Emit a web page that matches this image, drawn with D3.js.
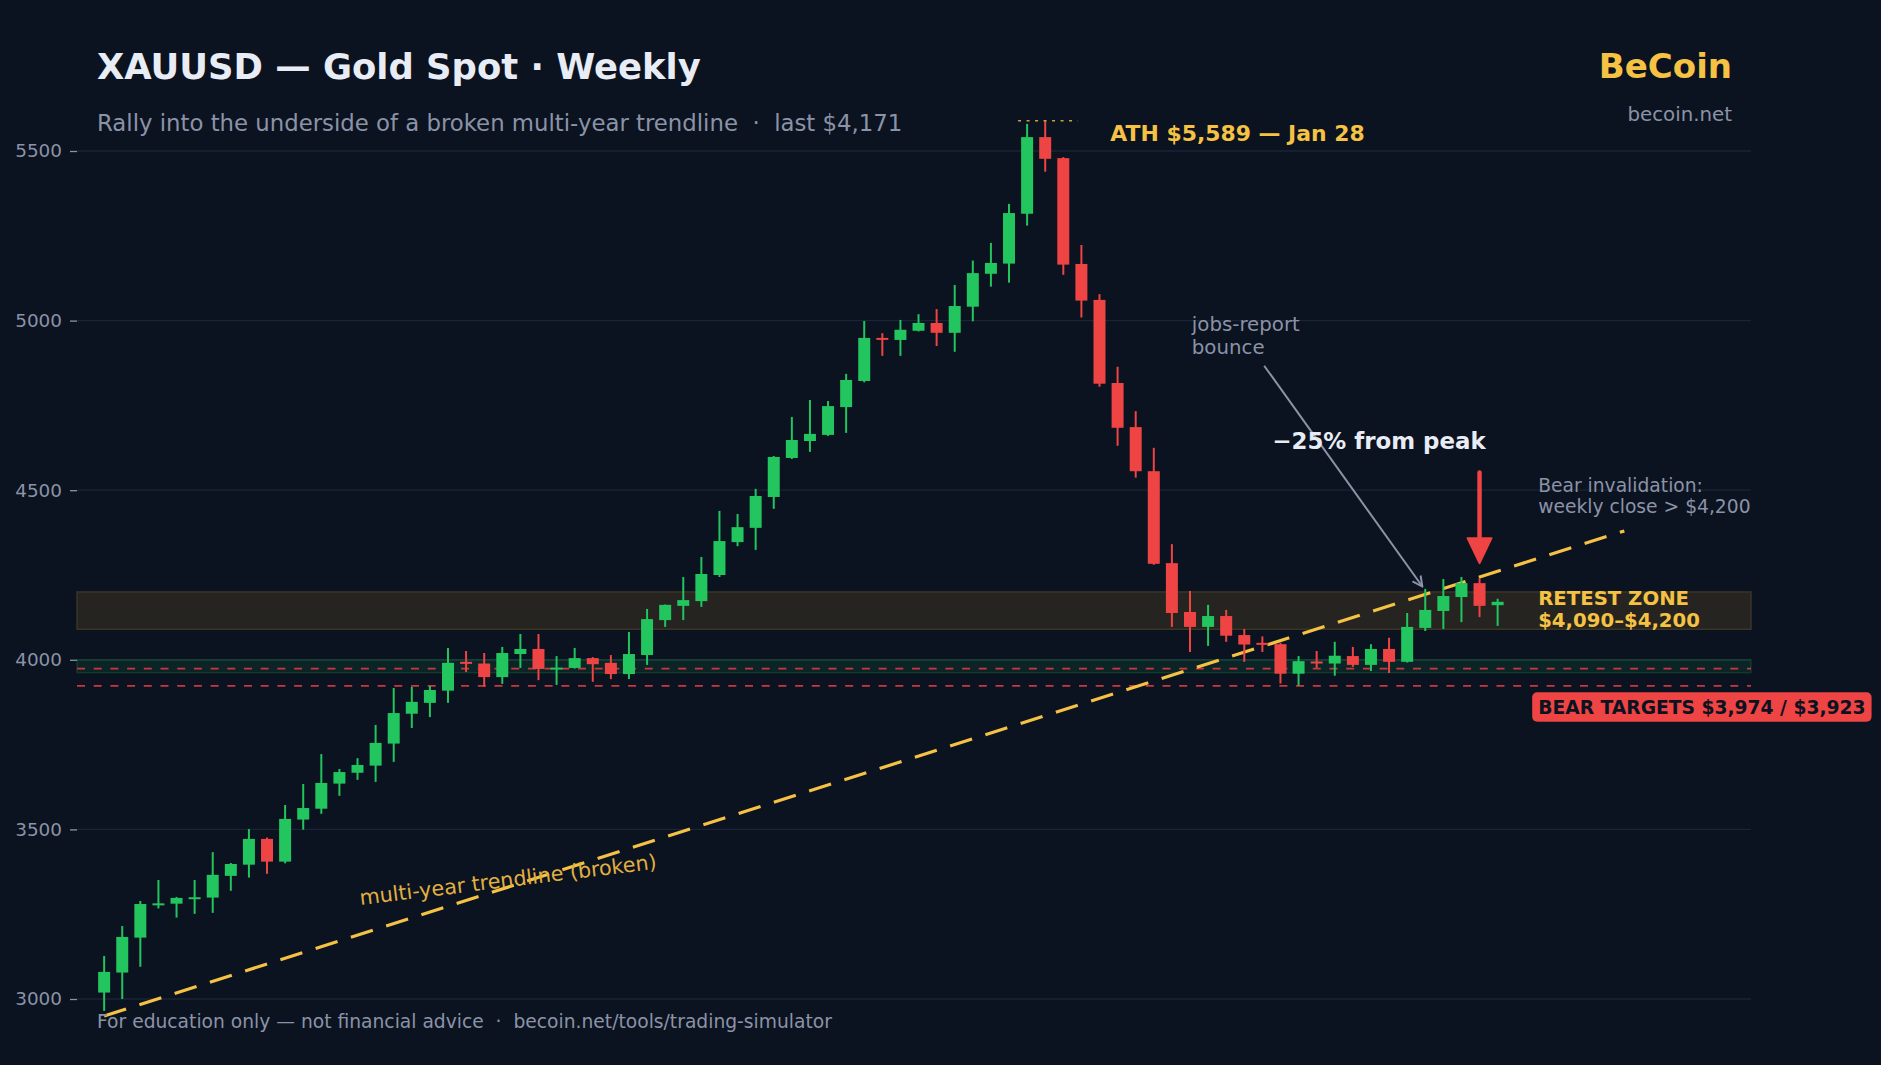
<!DOCTYPE html>
<html lang="en">
<head>
<meta charset="UTF-8" />
<title>XAUUSD — Gold Spot · Weekly</title>
<style>
  html, body { margin: 0; padding: 0; background: #0b1220; }
  svg { display: block; }
  text { font-family: "DejaVu Sans", sans-serif; }
</style>
</head>
<body>
<div id="chart"></div>
<script src="https://cdn.jsdelivr.net/npm/d3@7"></script>
<script>
// weekly OHLC
var opens  = [3019,3078,3181,3279,3281,3297,3299,3363,3396,3472,3405,3529,3561,3635,3667,3688,3753,3841,3873,3909,
              3994,3989,3949,4017,4032,3972,3976,4005,3991,3958,4014,4117,4159,4173,4250,4347,4389,4480,4595,4645,
              4663,4745,4822,4949,4943,4970,4993,4964,5041,5138,5168,5315,5541,5479,5167,5061,4816,4686,4556,4285,
              4141,4097,4129,4073,4050,4046,3959,3995,3989,4011,3985,4032,3994,4094,4144,4185,4226,4161];
var highs  = [3127,3215,3289,3351,3301,3351,3433,3401,3501,3476,3572,3634,3722,3678,3710,3808,3917,3920,3923,4035,
              4026,4020,4038,4076,4076,4011,4035,4008,4014,4082,4150,4163,4244,4303,4439,4430,4504,4601,4716,4766,
              4763,4843,4999,4963,5002,5019,5034,5105,5177,5229,5344,5580,5589,5482,5223,5078,4864,4733,4625,4341,
              4203,4162,4147,4091,4069,4050,4011,4026,4053,4038,4046,4065,4138,4209,4238,4244,4241,4180];
var lows   = [2965,3000,3095,3267,3240,3251,3254,3319,3358,3369,3400,3499,3546,3599,3646,3640,3699,3799,3831,3873,
              3964,3921,3929,3976,3940,3926,3974,3935,3943,3943,3985,4097,4117,4156,4244,4335,4324,4445,4592,4613,
              4660,4669,4818,4896,4896,4968,4925,4908,4998,5100,5112,5280,5439,5135,5009,4805,4631,4537,4280,4097,
              4023,4041,4053,3994,4023,3930,3924,3976,3953,3979,3967,3961,3992,4085,4091,4111,4126,4100];
var closes = [3080,3183,3280,3282,3298,3300,3366,3398,3472,3405,3531,3563,3637,3669,3690,3755,3843,3876,3911,3991,
              3988,3949,4020,4032,3973,3977,4005,3987,3958,4017,4120,4162,4176,4253,4350,4391,4483,4598,4648,4666,
              4748,4825,4949,4944,4973,4993,4964,5043,5140,5170,5317,5541,5477,5165,5059,4814,4684,4556,4283,4138,
              4097,4129,4071,4045,4047,3959,3996,3992,4012,3985,4032,3994,4097,4147,4188,4226,4159,4171];

var yTicks = [3000, 3500, 4000, 4500, 5000, 5500];

// levels
var retestZone = [4090, 4200];
var supportBand = [3962, 4000];
var bearTargets = [3974, 3923];
var athLevel = 5589;
var athSpan = [50.5, 53.8];
var trendPoints = [[0, 2950], [84, 4380]];

var W = 1881, H = 1065;
var plotLeft = 77, plotRight = 1751;
var GREEN = "#22c55e", RED = "#ef4444", GOLD = "#f5c244", GREY = "#8b93a7", WHITE = "#e8ecf4";

var x = d3.scaleLinear().domain([-1.5, 91]).range([plotLeft, plotRight]);
var y = d3.scaleLinear().domain([3000, 5500]).range([999, 151]);

var candles = opens.map(function (o, i) {
  return { i: i, o: o, h: highs[i], l: lows[i], c: closes[i] };
});

var svg = d3.select("#chart").append("svg")
  .attr("width", W).attr("height", H);

svg.append("rect").attr("width", W).attr("height", H).attr("fill", "#0b1220");

// gridlines
svg.append("g").selectAll("line").data(yTicks).enter().append("line")
  .attr("x1", plotLeft).attr("x2", plotRight)
  .attr("y1", function (d) { return y(d); }).attr("y2", function (d) { return y(d); })
  .attr("stroke", "#1a2436").attr("stroke-width", 1.3);

// y axis
var yAxis = svg.append("g").attr("transform", "translate(" + plotLeft + ",0)")
  .call(d3.axisLeft(y).tickValues(yTicks).tickSize(7).tickPadding(8).tickFormat(d3.format("d")));
yAxis.select(".domain").remove();
yAxis.selectAll("line").attr("stroke", GREY).attr("stroke-width", 1.3);
yAxis.selectAll("text").attr("fill", GREY).style("font-size", "18.4px").style("font-family", "DejaVu Sans");

// retest zone
svg.append("rect")
  .attr("x", plotLeft).attr("width", plotRight - plotLeft)
  .attr("y", y(retestZone[1])).attr("height", y(retestZone[0]) - y(retestZone[1]))
  .attr("fill", "#252420").attr("stroke", "#3a3524").attr("stroke-width", 1.5);

// support band around 4000
svg.append("rect")
  .attr("x", plotLeft).attr("width", plotRight - plotLeft)
  .attr("y", y(supportBand[1])).attr("height", y(supportBand[0]) - y(supportBand[1]))
  .attr("fill", "rgba(34,197,94,0.10)").attr("stroke", "rgba(34,197,94,0.18)").attr("stroke-width", 1.5);

// bear target lines
svg.append("g").selectAll("line").data(bearTargets).enter().append("line")
  .attr("x1", plotLeft).attr("x2", plotRight)
  .attr("y1", function (d) { return y(d); }).attr("y2", function (d) { return y(d); })
  .attr("stroke", "#c8383e").attr("stroke-width", 1.8).attr("stroke-dasharray", "8,8.7");

// trendline
var line = d3.line().x(function (d) { return x(d[0]); }).y(function (d) { return y(d[1]); });
svg.append("path").datum(trendPoints).attr("d", line)
  .attr("fill", "none").attr("stroke", GOLD).attr("stroke-width", 3.2)
  .attr("stroke-dasharray", "23,14");

// label is tilted less steeply than the line itself
svg.append("text")
  .attr("transform", "translate(" + x(14.17) + "," + y(3277) + ") rotate(-7)")
  .attr("fill", "#e0b040").style("font-size", "20.7px")
  .text("multi-year trendline (broken)");

// candles
var bodyW = 12;
var cg = svg.append("g").selectAll("g").data(candles).enter().append("g");
cg.append("line")
  .attr("x1", function (d) { return x(d.i); }).attr("x2", function (d) { return x(d.i); })
  .attr("y1", function (d) { return y(d.h); }).attr("y2", function (d) { return y(d.l); })
  .attr("stroke", function (d) { return d.c >= d.o ? GREEN : RED; })
  .attr("stroke-width", 2);
cg.append("rect")
  .attr("x", function (d) { return x(d.i) - bodyW / 2; })
  .attr("width", bodyW)
  .attr("y", function (d) { return y(Math.max(d.o, d.c)); })
  .attr("height", function (d) { return Math.max(2, Math.abs(y(d.o) - y(d.c))); })
  .attr("fill", function (d) { return d.c >= d.o ? GREEN : RED; });

// ATH marker
svg.append("line")
  .attr("x1", x(athSpan[0])).attr("x2", x(athSpan[1]))
  .attr("y1", y(athLevel)).attr("y2", y(athLevel))
  .attr("stroke", "#c9a23e").attr("stroke-width", 1.5).attr("stroke-dasharray", "3,5.5");
svg.append("text").attr("x", x(55.6)).attr("y", y(5529))
  .attr("fill", GOLD).style("font-size", "21.9px").style("font-weight", "bold")
  .text("ATH $5,589 — Jan 28");

// jobs-report annotation
var jobs = svg.append("text").attr("fill", GREY).style("font-size", "19.8px");
jobs.append("tspan").attr("x", x(60.1)).attr("y", y(4968)).text("jobs-report");
jobs.append("tspan").attr("x", x(60.1)).attr("dy", 22.5).text("bounce");

var defs = svg.append("defs");
defs.append("marker").attr("id", "open").attr("viewBox", "0 0 12 12")
  .attr("refX", 11).attr("refY", 6).attr("markerWidth", 12).attr("markerHeight", 12)
  .attr("markerUnits", "userSpaceOnUse").attr("orient", "auto")
  .append("path").attr("d", "M1,1 L11,6 L1,11").attr("fill", "none")
  .attr("stroke", GREY).attr("stroke-width", 2);

svg.append("line")
  .attr("x1", x(64.1)).attr("y1", y(4867))
  .attr("x2", x(72.84)).attr("y2", y(4216))
  .attr("stroke", GREY).attr("stroke-width", 2).attr("marker-end", "url(#open)");

svg.append("text").attr("x", x(64.55)).attr("y", y(4621))
  .attr("fill", WHITE).style("font-size", "22.9px").style("font-weight", "bold")
  .text("\u221225% from peak");

// red rejection arrow
var ax = x(76), ayTop = y(4552), ayTip = y(4285);
svg.append("line").attr("x1", ax).attr("x2", ax).attr("y1", ayTop).attr("y2", ayTip - 18)
  .attr("stroke", RED).attr("stroke-width", 4.5).attr("stroke-linecap", "round");
svg.append("path")
  .attr("d", "M" + (ax - 12) + "," + (ayTip - 25) + " L" + (ax + 12) + "," + (ayTip - 25) + " L" + ax + "," + ayTip + " Z")
  .attr("fill", RED).attr("stroke", RED).attr("stroke-width", 2).attr("stroke-linejoin", "round");

// right-hand notes
var inval = svg.append("text").attr("fill", GREY).style("font-size", "18.7px");
inval.append("tspan").attr("x", x(79.24)).attr("y", y(4496)).text("Bear invalidation:");
inval.append("tspan").attr("x", x(79.24)).attr("dy", 21).text("weekly close > $4,200");

var retest = svg.append("text").attr("fill", GOLD).style("font-size", "19.7px").style("font-weight", "bold");
retest.append("tspan").attr("x", x(79.24)).attr("y", y(4161)).text("RETEST ZONE");
retest.append("tspan").attr("x", x(79.24)).attr("dy", 21.7).text("$4,090\u2013$4,200");

var bt = svg.append("g");
var btRect = bt.append("rect").attr("fill", RED).attr("rx", 5).attr("ry", 5);
var btText = bt.append("text").attr("x", x(79.24)).attr("y", y(3861) + 6.8)
  .attr("fill", "#0b1220").style("font-size", "18.7px").style("font-weight", "bold")
  .text("BEAR TARGETS $3,974 / $3,923");
var bb = btText.node().getBBox();
btRect.attr("x", bb.x - 6).attr("y", y(3861) - 14.7).attr("width", bb.width + 12).attr("height", 29.4);

// titles
svg.append("text").attr("x", 97).attr("y", 79)
  .attr("fill", WHITE).style("font-size", "35.4px").style("font-weight", "bold")
  .text("XAUUSD — Gold Spot · Weekly");
svg.append("text").attr("x", 97).attr("y", 131)
  .attr("fill", GREY).style("font-size", "22.8px").style("white-space", "pre")
  .text("Rally into the underside of a broken multi-year trendline  \u00b7  last $4,171");
svg.append("text").attr("x", 1732).attr("y", 78).attr("text-anchor", "end")
  .attr("fill", GOLD).style("font-size", "34px").style("font-weight", "bold")
  .text("BeCoin");
svg.append("text").attr("x", 1732).attr("y", 121).attr("text-anchor", "end")
  .attr("fill", GREY).style("font-size", "19.8px")
  .text("becoin.net");
svg.append("text").attr("x", 97).attr("y", 1028)
  .attr("fill", GREY).style("font-size", "18.7px").style("white-space", "pre")
  .text("For education only — not financial advice  \u00b7  becoin.net/tools/trading-simulator");
</script>
</body>
</html>
